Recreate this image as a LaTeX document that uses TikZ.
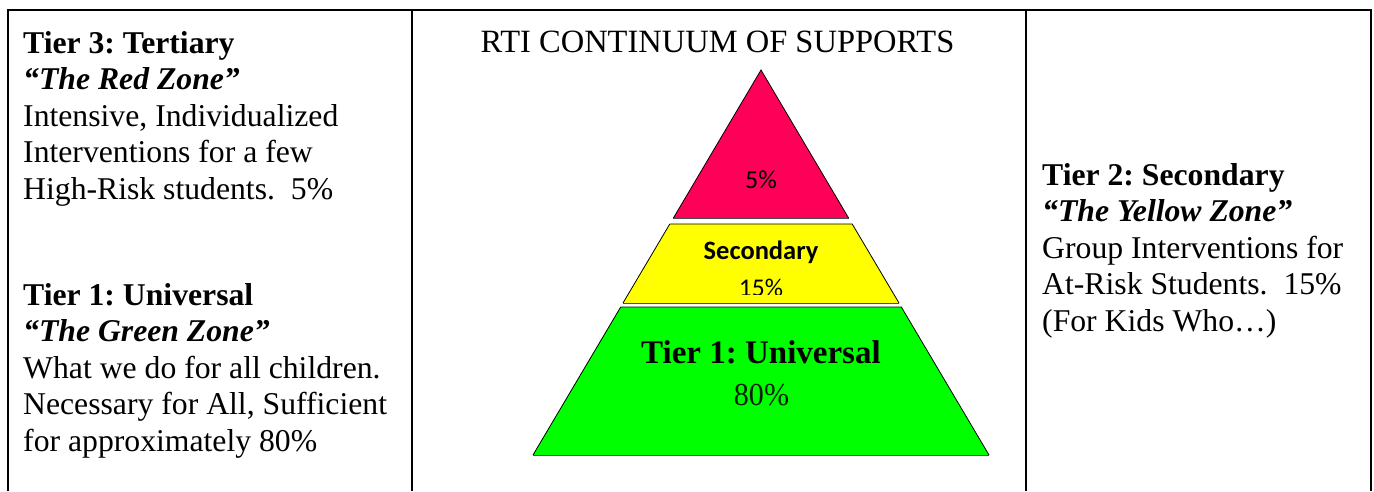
\documentclass[tikz,border=0pt]{standalone}
\usepackage{fontspec}
\setmainfont{Liberation Serif}
\newfontfamily\calibri{Carlito}
\frenchspacing
\definecolor{zonered}{RGB}{255,0,88}
\definecolor{zoneyellow}{RGB}{255,255,0}
\definecolor{zonegreen}{RGB}{0,255,0}
\definecolor{darkgreentext}{RGB}{5,30,5}
\begin{document}
\begin{tikzpicture}[x=1pt,y=-1pt,
  frame/.style={line width=2pt,black},
  body/.style={inner sep=0pt,align=left,anchor=north west,font=\fontsize{31.7}{36.5}\selectfont},
  zone/.style={draw=black,line width=0.8pt,line join=miter},
  pct/.style={inner sep=0pt,anchor=base,font=\calibri\fontsize{26}{30}\selectfont}]
\useasboundingbox (0,0) rectangle (1374,491);
% table frame
\draw[frame] (8,491) -- (8,10) -- (1371,10) -- (1371,491);
\draw[frame] (412,10) -- (412,491);
\draw[frame] (1025.7,10) -- (1025.7,491);
% title
\node[inner sep=0pt,anchor=base,font=\fontsize{32.5}{36}\selectfont] (title) at (717.5,52) {RTI CONTINUUM OF SUPPORTS};
% pyramid (centre x = 761, slope 0.592)
\coordinate (apex) at (761,70);
\fill[zonered] (apex) -- (848.6,218) -- (673.4,218) -- cycle;
\draw[zone] (673.4,218) -- (apex) -- (848.6,218);
\draw[line width=1pt,black!70] (673.4,218) -- (848.6,218);
\fill[zoneyellow] (669.8,224) -- (852.2,224) -- (899,303) -- (623,303) -- cycle;
\draw[zone] (669.8,224) -- (852.2,224) -- (899,303);
\draw[zone] (669.8,224) -- (623,303);
\draw[line width=1pt,black!70] (623,303) -- (899,303);
\fill[zonegreen] (620.7,307) -- (901.3,307) -- (989,455) -- (533,455) -- cycle;
\draw[zone] (620.7,307) -- (901.3,307) -- (989,455);
\draw[zone] (620.7,307) -- (533,455);
\draw[line width=1pt,black!70] (533,455) -- (989,455);
% pyramid labels
\node[pct] (p5) at (761,188) {5\%};
\node[pct,font=\calibri\bfseries\fontsize{26.5}{30}\selectfont] (sec) at (761,259) {Secondary};
\begin{scope}
\clip (600,270) rectangle (920,294.5);
\node[pct,font=\calibri\fontsize{25.5}{28}\selectfont] (p15) at (761,296) {15\%};
\end{scope}
\node[inner sep=0pt,anchor=base,font=\bfseries\fontsize{33}{40}\selectfont] (t1) at (761,363) {Tier 1: Universal};
\node[inner sep=0pt,anchor=base,font=\fontsize{32}{40}\selectfont,text=darkgreentext] (p80) at (761.5,405) {\scalebox{0.94}[1]{80\%}};
% left column
\node[body] (left3) at (23,31) {\textbf{Tier 3: Tertiary}\\
\textbf{\textit{“The Red Zone”}}\\
Intensive, Individualized\\
Interventions for a few\\
High-Risk students.\ \ 5\%};
\node[body] (left1) at (23,283) {\textbf{Tier 1: Universal}\\
\textbf{\textit{“The Green Zone”}}\\
What we do for all children.\\
Necessary for All, Sufficient\\
for approximately 80\%};
% right column
\node[body] (right2) at (1042,163) {\textbf{Tier 2: Secondary}\\
\textbf{\textit{“The Yellow Zone”}}\\
Group Interventions for\\
At-Risk Students.\ \ 15\%\\
(For Kids Who…)};
\end{tikzpicture}
\end{document}
